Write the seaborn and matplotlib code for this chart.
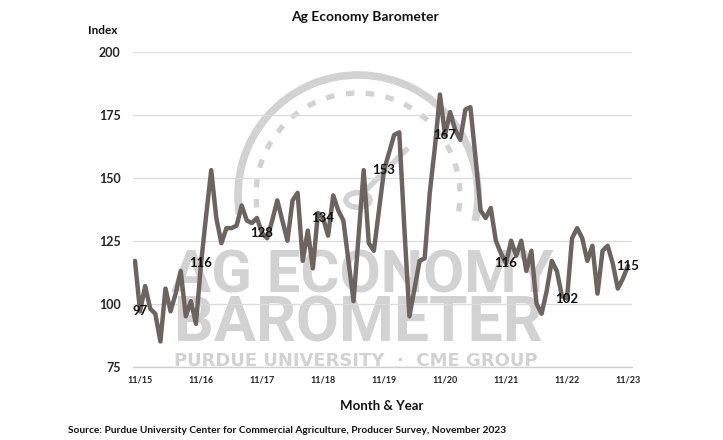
import numpy as np
import pandas as pd
import matplotlib
matplotlib.use('Agg')
import matplotlib.pyplot as plt
import seaborn as sns
from matplotlib.patches import Arc, Circle

# Monthly barometer readings, Oct 2015 - Nov 2023
values = [117, 97, 107, 98, 96, 85, 106, 97, 104, 113, 95, 101,
          92, 116, 135, 153, 134, 124, 130, 130, 131, 139, 133, 132,
          134, 128, 126, 133, 141, 133, 125, 141, 144, 117, 129, 114,
          136, 134, 127, 143, 137, 133, 117, 101, 127, 153, 124, 121,
          137, 153, 160, 167, 168, 130, 95, 106, 117, 118, 144, 162,
          183, 167, 176, 169, 165, 177, 178, 158, 137, 134, 138, 125,
          120, 116, 125, 119, 125, 113, 121, 100, 96, 105, 117, 113,
          103, 102, 126, 130, 126, 117, 123, 104, 121, 123, 116, 106,
          110, 115]
# November of each year gets a tick and a data label
label_months = [1, 13, 25, 37, 49, 61, 73, 85, 97]
tick_labels = ['11/15', '11/16', '11/17', '11/18', '11/19', '11/20', '11/21', '11/22', '11/23']
y_ticks = [75, 100, 125, 150, 175, 200]

df = pd.DataFrame({'month': np.arange(len(values)), 'index': values})

sns.set_theme(style='white')
plt.rcParams['font.family'] = ['Lato', 'DejaVu Sans']

W, H = 723, 440
fig = plt.figure(figsize=(W / 100, H / 100), dpi=100)
ax = fig.add_axes([133 / W, 1 - 366.7 / H, (632 - 133) / W, (366.7 - 51.7) / H])
ax.patch.set_visible(False)

def fx(px):
    return px / W

def fy(py):
    return 1 - py / H

# Watermark logo (gauge + wordmark)
wm = '#d2d2d2'
ax.add_patch(Arc((fx(358), fy(195)), 2 * 120 / W, 2 * 120 / H, theta1=-20, theta2=195,
                 transform=fig.transFigure, color=wm, lw=5.5, zorder=0.3, clip_on=False))
ax.add_patch(Arc((fx(358), fy(195)), 2 * 102 / W, 2 * 102 / H, theta1=-15, theta2=195,
                 transform=fig.transFigure, color=wm, lw=3.8, zorder=0.3, clip_on=False,
                 linestyle=(0, (1.6, 2.2))))
ax.add_patch(Circle((fx(358), fy(200)), 12 / W, transform=fig.transFigure, fill=False,
                    ec=wm, lw=4, zorder=0.3, clip_on=False))
ax.plot([fx(366), fx(408)], [fy(190), fy(148)], transform=fig.transFigure, color=wm,
        lw=4, zorder=0.3, clip_on=False, solid_capstyle='butt')
wm_font = ['Liberation Sans Narrow', 'Roboto', 'DejaVu Sans']
ax.text(fx(362), fy(292), 'AG ECONOMY', transform=fig.transFigure, ha='center', va='baseline',
        fontsize=43, fontweight='bold', color=wm, family=wm_font, zorder=0.3)
ax.text(fx(358), fy(342), 'BAROMETER', transform=fig.transFigure, ha='center', va='baseline',
        fontsize=45, fontweight='bold', color=wm, family=wm_font, zorder=0.3)
ax.text(fx(356), fy(366), 'PURDUE UNIVERSITY  ·  CME GROUP', transform=fig.transFigure,
        ha='center', va='baseline', fontsize=13, fontweight='bold', color=wm,
        family=['DejaVu Sans'], zorder=0.3)

sns.lineplot(data=df, x='month', y='index', color='#6e645f', lw=3.2, ax=ax, zorder=3)

for m in label_months:
    ax.text(m, values[m], str(values[m]), ha='center', va='center', fontsize=9.5,
            fontweight='bold', color='#111111', zorder=4)

ax.set_xlim(-0.39, 97.79)
ax.set_ylim(75, 200)
ax.set_xticks(label_months)
ax.set_xticklabels(tick_labels, fontsize=6.5, fontweight='bold', color='#222222')
ax.set_yticks(y_ticks)
ax.set_yticklabels([str(v) for v in y_ticks], fontsize=9, fontweight='bold', color='#262626')
ax.tick_params(axis='x', length=0, pad=6)
ax.tick_params(axis='y', length=0, pad=9)
ax.set_xlabel('')
ax.set_ylabel('')
ax.grid(axis='y', color='#dcdcdc', lw=1)
ax.set_axisbelow(True)
for s in ['top', 'right', 'left']:
    ax.spines[s].set_visible(False)
ax.spines['bottom'].set_color('#d0d0d0')
ax.spines['bottom'].set_linewidth(1)

fig.text(fx(365), fy(17), 'Ag Economy Barometer', ha='center', va='center',
         fontsize=10, fontweight='bold', color='#111111')
fig.text(fx(103), fy(30), 'Index', ha='center', va='center',
         fontsize=8.5, fontweight='bold', color='#111111')
fig.text(fx(382), fy(406), 'Month & Year', ha='center', va='center',
         fontsize=9.5, fontweight='bold', color='#111111')
fig.text(fx(68), fy(430), 'Source: Purdue University Center for Commercial Agriculture, Producer Survey, November 2023',
         ha='left', va='center', fontsize=7.3, fontweight='bold', color='#111111')

fig.savefig('out.png', dpi=100, facecolor='white')
